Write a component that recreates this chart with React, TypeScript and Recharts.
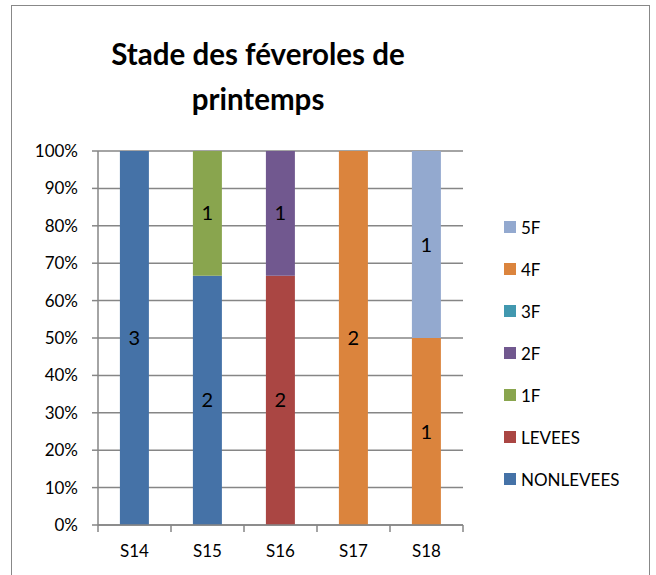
import { BarChart, Bar, XAxis, YAxis, CartesianGrid, LabelList } from "recharts";

const WEEKS = ["S14", "S15", "S16", "S17", "S18"];

// counts per stage, one value per week
const NONLEVEES = [3, 2, 0, 0, 0];
const LEVEES = [0, 0, 2, 0, 0];
const F1 = [0, 1, 0, 0, 0];
const F2 = [0, 0, 1, 0, 0];
const F3 = [0, 0, 0, 0, 0];
const F4 = [0, 0, 0, 2, 1];
const F5 = [0, 0, 0, 0, 1];

const Y_TICKS = [0, 0.1, 0.2, 0.3, 0.4, 0.5, 0.6, 0.7, 0.8, 0.9, 1];

const SERIES = [
  { key: "NONLEVEES", values: NONLEVEES, color: "#4572A7" },
  { key: "LEVEES", values: LEVEES, color: "#AA4643" },
  { key: "1F", values: F1, color: "#89A54E" },
  { key: "2F", values: F2, color: "#71588F" },
  { key: "3F", values: F3, color: "#4198AF" },
  { key: "4F", values: F4, color: "#DB843D" },
  { key: "5F", values: F5, color: "#93A9CF" },
];

const data = WEEKS.map((week, i) => {
  const row: Record<string, string | number> = { week };
  SERIES.forEach((s) => {
    row[s.key] = s.values[i];
  });
  return row;
});

const FONT = "Lato, 'Liberation Sans', sans-serif";

function WeekTick(props: any) {
  const { x, y, payload, index } = props;
  const half = payload?.offset || 36.5;
  const top = y - 8;
  return (
    <g>
      <line x1={x - half} x2={x - half} y1={top} y2={top + 7} stroke="#868686" strokeWidth={1.5} />
      {index === WEEKS.length - 1 && (
        <line x1={x + half} x2={x + half} y1={top} y2={top + 7} stroke="#868686" strokeWidth={1.5} />
      )}
      <text x={x} y={top + 32} textAnchor="middle" fontSize={17} fontFamily={FONT} fill="#000">
        {payload.value}
      </text>
    </g>
  );
}

function StageLegend() {
  return (
    <div style={{ position: "absolute", left: 504, top: 206, fontFamily: FONT, fontSize: 17, color: "#000" }}>
      {[...SERIES].reverse().map((s) => (
        <div key={s.key} style={{ display: "flex", alignItems: "center", height: 42 }}>
          <div style={{ width: 12, height: 12, background: s.color, marginRight: 5 }} />
          <span>{s.key}</span>
        </div>
      ))}
    </div>
  );
}

export default function App() {
  return (
    <div style={{ position: "absolute", left: 0, top: 0, width: 656, height: 575, background: "#fff", overflow: "hidden" }}>
      <div
        style={{
          position: "absolute",
          left: 11,
          top: 5,
          width: 639,
          height: 600,
          border: "1.5px solid #888",
          boxSizing: "border-box",
        }}
      />
      <div
        style={{
          position: "absolute",
          left: 60,
          width: 396,
          top: 31,
          textAlign: "center",
          fontFamily: FONT,
          fontWeight: 700,
          fontSize: 29.5,
          lineHeight: "45px",
          color: "#000",
        }}
      >
        Stade des féveroles de
        <br />
        printemps
      </div>
      <BarChart
        width={656}
        height={575}
        data={data}
        stackOffset="expand"
        barCategoryGap="30%"
        margin={{ top: 151, right: 193, bottom: 20, left: 28 }}
        style={{ position: "absolute", left: 0, top: 0 }}
      >
        <CartesianGrid vertical={false} stroke="#868686" strokeWidth={1.5} />
        <XAxis
          dataKey="week"
          height={30}
          axisLine={{ stroke: "#868686", strokeWidth: 1.5 }}
          tickLine={false}
          tick={<WeekTick />}
          interval={0}
        />
        <YAxis
          width={70}
          domain={[0, 1]}
          ticks={Y_TICKS}
          tickFormatter={(v: number) => `${Math.round(v * 100)}%`}
          axisLine={{ stroke: "#868686", strokeWidth: 1.5 }}
          tickLine={{ stroke: "#868686", strokeWidth: 1.5 }}
          tickSize={6}
          tickMargin={14}
          tick={{ fill: "#000", fontSize: 17, fontFamily: FONT }}
        />
        {SERIES.map((s) => (
          <Bar key={s.key} dataKey={s.key} stackId="a" fill={s.color} isAnimationActive={false}>
            <LabelList
              dataKey={s.key}
              position="center"
              formatter={(v: any) => (v ? v : "")}
              fill="#000"
              fontSize={20}
              fontFamily={FONT}
            />
          </Bar>
        ))}
      </BarChart>
      <StageLegend />
    </div>
  );
}
